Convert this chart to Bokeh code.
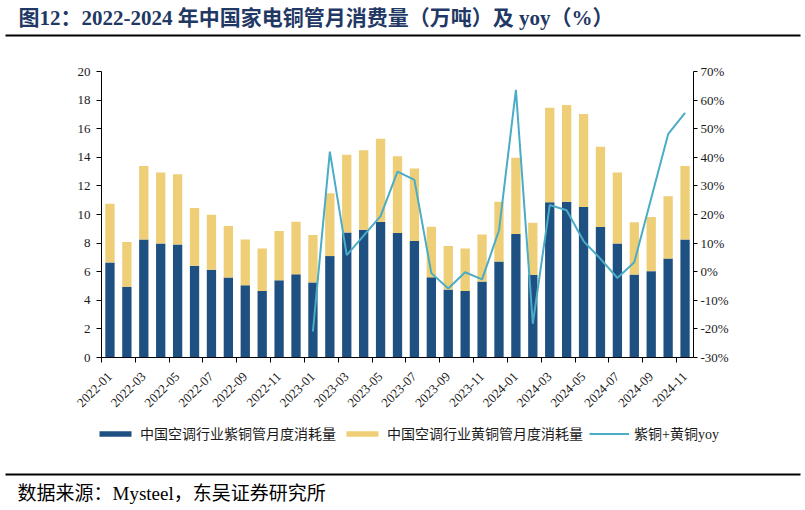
import math
from bokeh.plotting import figure
from bokeh.models import (Range1d, LinearAxis, FixedTicker, PrintfTickFormatter,
                          Legend, LegendItem, ColumnDataSource)
from bokeh.core.properties import value
from bokeh.embed import file_html
from bokeh.resources import INLINE

# ---------------- data ----------------
months = ["2022-01", "2022-02", "2022-03", "2022-04", "2022-05", "2022-06",
          "2022-07", "2022-08", "2022-09", "2022-10", "2022-11", "2022-12",
          "2023-01", "2023-02", "2023-03", "2023-04", "2023-05", "2023-06",
          "2023-07", "2023-08", "2023-09", "2023-10", "2023-11", "2023-12",
          "2024-01", "2024-02", "2024-03", "2024-04", "2024-05", "2024-06",
          "2024-07", "2024-08", "2024-09", "2024-10", "2024-11"]

# 中国空调行业紫铜管月度消耗量 (万吨)
zitong = [6.64, 4.94, 8.26, 7.97, 7.90, 6.41, 6.13, 5.59, 5.05, 4.65, 5.40, 5.82,
          5.25, 7.09, 8.75, 8.94, 9.47, 8.70, 8.14, 5.61, 4.75, 4.65, 5.31, 6.71,
          8.63, 5.78, 10.85, 10.90, 10.53, 9.12, 7.97, 5.80, 6.04, 6.92, 8.26]

# 中国空调行业黄铜管月度消耗量 (万吨)
huangtong = [4.12, 3.13, 5.14, 4.97, 4.92, 4.05, 3.86, 3.60, 3.21, 2.98, 3.44, 3.68,
             3.31, 4.40, 5.43, 5.56, 5.83, 5.38, 5.08, 3.54, 3.04, 2.98, 3.30, 4.19,
             5.33, 3.65, 6.62, 6.75, 6.49, 5.62, 4.97, 3.65, 3.78, 4.35, 5.14]

# 紫铜+黄铜 yoy (%)，2022 年无数据
nan = float("nan")
yoy = [nan, nan, nan, nan, nan, nan, nan, nan, nan, nan, nan, nan,
       -20.9, 42.0, 5.8, 12.6, 19.4, 35.0, 32.1, -0.5, -5.9, -0.2, -2.7, 14.4,
       63.6, -18.2, 23.3, 21.5, 10.7, 4.5, -2.2, 3.3, 25.7, 48.1, 55.5]

left_ticks = [0, 2, 4, 6, 8, 10, 12, 14, 16, 18, 20]
right_ticks = [-30, -20, -10, 0, 10, 20, 30, 40, 50, 60, 70]

series_names = ["中国空调行业紫铜管月度消耗量", "中国空调行业黄铜管月度消耗量", "紫铜+黄铜yoy"]
title_text = "图12：2022-2024 年中国家电铜管月消费量（万吨）及 yoy（%）"
source_text = "数据来源：Mysteel，东吴证券研究所"

# ---------------- style ----------------
NAVY = "#1F5082"
GOLD = "#EECE77"
AQUA = "#4BACC6"
TITLE_COLOR = "#1F3864"
SERIF = "Liberation Serif, Noto Sans CJK SC"
W, H = 805, 510

# chart region in canvas pixels
PX_L, PX_R, PX_T, PX_B = 101, 693, 71, 357
XMIN, XMAX = -0.5, len(months) - 0.5
YMIN, YMAX = left_ticks[0], left_ticks[-1]
RMIN, RMAX = right_ticks[0], right_ticks[-1]

kx = (XMAX - XMIN) / (PX_R - PX_L)
ky = (YMAX - YMIN) / (PX_B - PX_T)
kr = (RMAX - RMIN) / (PX_B - PX_T)


def dx(px):
    return XMIN + (px - PX_L) * kx


def dy(py):
    return YMIN + (PX_B - py) * ky


p = figure(width=W, height=H,
           x_range=Range1d(dx(0), dx(W)), y_range=Range1d(dy(H), dy(0)),
           output_backend="svg", toolbar_location=None,
           min_border=0, min_border_left=0, min_border_right=0,
           min_border_top=0, min_border_bottom=0, outline_line_color=None)
p.xgrid.visible = False
p.ygrid.visible = False
p.extra_y_ranges = {"yoy": Range1d(RMIN - (H - PX_B) * kr, RMAX + PX_T * kr)}

xs = list(range(len(months)))
src = ColumnDataSource(dict(x=xs, zitong=zitong, huangtong=huangtong, yoy=yoy))

bars = p.vbar_stack(["zitong", "huangtong"], x="x", width=0.55, source=src,
                    fill_color=[NAVY, GOLD], line_color=None)
ln = p.line(x="x", y="yoy", source=src, y_range_name="yoy",
            line_color=AQUA, line_width=2)

# left axis
yax = p.yaxis[0]
yax.fixed_location = XMIN
yax.bounds = (YMIN, YMAX)
yax.ticker = FixedTicker(ticks=left_ticks)
yax.axis_line_color = "black"
yax.major_tick_line_color = "black"
yax.major_tick_in = 0
yax.major_tick_out = 5
yax.minor_tick_out = 0
yax.minor_tick_in = 0
yax.major_label_standoff = 6
yax.major_label_text_font = SERIF
yax.major_label_text_font_size = "13px"
yax.major_label_text_color = "#1a1a1a"

# right axis
rax = LinearAxis(y_range_name="yoy", ticker=FixedTicker(ticks=right_ticks),
                 formatter=PrintfTickFormatter(format="%d%%"))
rax.fixed_location = XMAX
rax.bounds = (RMIN, RMAX)
rax.axis_line_color = "black"
rax.major_tick_line_color = "black"
rax.major_tick_in = 0
rax.major_tick_out = 4
rax.minor_tick_out = 0
rax.minor_tick_in = 0
rax.major_label_standoff = 3
rax.major_label_text_font = SERIF
rax.major_label_text_font_size = "13px"
rax.major_label_text_color = "#1a1a1a"
p.add_layout(rax, "right")

# bottom axis
label_pos = xs[::2]
xax = p.xaxis[0]
xax.fixed_location = YMIN
xax.bounds = (XMIN, XMAX)
xax.ticker = FixedTicker(ticks=label_pos, minor_ticks=[i - 0.5 for i in label_pos])
xax.major_label_overrides = {i: months[i] for i in label_pos}
xax.axis_line_color = "black"
xax.major_tick_in = 0
xax.major_tick_out = 0
xax.minor_tick_in = 0
xax.minor_tick_out = 5
xax.minor_tick_line_color = "black"
xax.major_label_orientation = math.pi / 4
xax.major_label_standoff = 12
xax.major_label_text_font = SERIF
xax.major_label_text_font_size = "13px"
xax.major_label_text_color = "#1a1a1a"

# legend (screen units from bottom-left of the frame = canvas)
legend = Legend(items=[LegendItem(label=series_names[0], renderers=[bars[0]]),
                       LegendItem(label=series_names[1], renderers=[bars[1]]),
                       LegendItem(label=series_names[2], renderers=[ln])],
                location=(95, H - 443), orientation="horizontal",
                glyph_width=40, glyph_height=7, label_standoff=5, spacing=6,
                padding=0, margin=0, label_height=14,
                label_text_font=SERIF, label_text_font_size="14px",
                label_text_color="#1a1a1a", border_line_color=None,
                background_fill_alpha=0)
p.add_layout(legend)

# header / footer
p.text(x=[dx(18)], y=[dy(17)], text=[title_text], text_font=value(SERIF),
       text_font_style="bold", text_font_size="21px", text_color=TITLE_COLOR,
       text_baseline="middle", text_align="left")
p.line(x=[dx(5), dx(800)], y=[dy(35), dy(35)], line_color="black", line_width=2)
p.line(x=[dx(5), dx(800)], y=[dy(474), dy(474)], line_color="black", line_width=2)
p.text(x=[dx(17)], y=[dy(493)], text=[source_text], text_font=value(SERIF),
       text_font_size="19px", text_color="black",
       text_baseline="middle", text_align="left")

open("out.html", "w").write(file_html(p, INLINE))
